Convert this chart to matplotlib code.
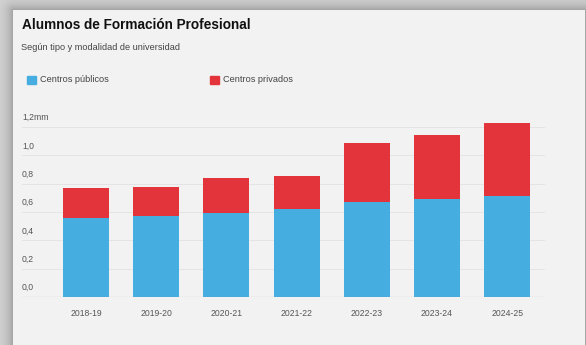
import numpy as np
import matplotlib
matplotlib.use("Agg")
import matplotlib.pyplot as plt

# Alumnos de FP (millones) por curso y titularidad del centro
cursos = ["2018-19", "2019-20", "2020-21", "2021-22", "2022-23", "2023-24", "2024-25"]
publicos = [0.555, 0.572, 0.595, 0.619, 0.673, 0.689, 0.713]
privados = [0.212, 0.206, 0.243, 0.235, 0.412, 0.454, 0.513]
y_ticks = [0.0, 0.2, 0.4, 0.6, 0.8, 1.0, 1.2]
y_labels = ["0,0", "0,2", "0,4", "0,6", "0,8", "1,0", "1,2mm"]

AZUL = "#45ade0"
ROJO = "#e4343b"
TEXTO = "#444444"

W, H = 586, 345
fig = plt.figure(figsize=(W / 100, H / 100), dpi=100)


def fx(x):
    return x / W


def fy(y):
    return 1 - y / H


# Panel with a soft drop shadow around it
px0, py0, px1, py1 = 13, 10, 584, H + 20
yy, xx = np.mgrid[0:H, 0:W]
dx = np.maximum(np.maximum(px0 - xx, xx - px1), 0)
dy = np.maximum(np.maximum(py0 - yy, yy - py1), 0)
dist = np.hypot(dx, dy)
inside = (xx >= px0) & (xx <= px1) & (yy >= py0)
shade = 0.84 - 0.22 * np.exp(-dist / 7.0)
shade = np.where(inside, 0.949, shade)
bg = fig.add_axes([0, 0, 1, 1])
bg.imshow(shade, cmap="gray", vmin=0, vmax=1, aspect="auto", interpolation="bilinear")
bg.set_axis_off()

# Title, subtitle, legend
fig.text(fx(22), fy(25), "Alumnos de Formación Profesional", fontsize=9.8,
         fontweight="bold", family="Liberation Sans", color="#111111", va="center")
fig.text(fx(21), fy(48), "Según tipo y modalidad de universidad", fontsize=6.6,
         family="Liberation Sans", color=TEXTO, va="center")

for x_sq, label, col in [(27, "Centros públicos", AZUL), (210, "Centros privados", ROJO)]:
    fig.patches.append(plt.Rectangle((fx(x_sq), fy(84)), 9 / W, 8 / H, color=col,
                                     transform=fig.transFigure, figure=fig))
    fig.text(fx(x_sq + 13), fy(80), label, fontsize=6.6, family="Liberation Sans",
             color=TEXTO, va="center")

# Main chart
ax_left, ax_right, ax_bottom, ax_top = 22, 545, 297, 115
ax = fig.add_axes([fx(ax_left), fy(ax_bottom), (ax_right - ax_left) / W,
                   (ax_bottom - ax_top) / H])
ax.set_facecolor("none")
x = np.arange(len(cursos))
ax.bar(x, publicos, width=0.655, color=AZUL, zorder=3)
ax.bar(x, privados, width=0.655, bottom=publicos, color=ROJO, zorder=3)

px_per_unit = (ax_bottom - 127) / 1.2
ax.set_ylim(0, (ax_bottom - ax_top) / px_per_unit)
ax.set_xlim(-0.912, 6.54)

for t, lab in zip(y_ticks, y_labels):
    if t > 0:
        ax.axhline(t, color="#e4e4e4", lw=0.7, zorder=1)
    ax.text(0.0, t + 0.035, lab, transform=ax.get_yaxis_transform(), fontsize=6.2,
            family="Liberation Sans", color="#555555", va="bottom", ha="left")
ax.axhline(0, color="#999999", lw=0.8, zorder=4)

ax.set_xticks(x)
ax.set_xticklabels(cursos, fontsize=6.2, family="Liberation Sans", color="#555555")
ax.tick_params(axis="x", length=0, pad=9)
ax.set_yticks([])
for s in ax.spines.values():
    s.set_visible(False)

fig.savefig("out.png", dpi=100)
